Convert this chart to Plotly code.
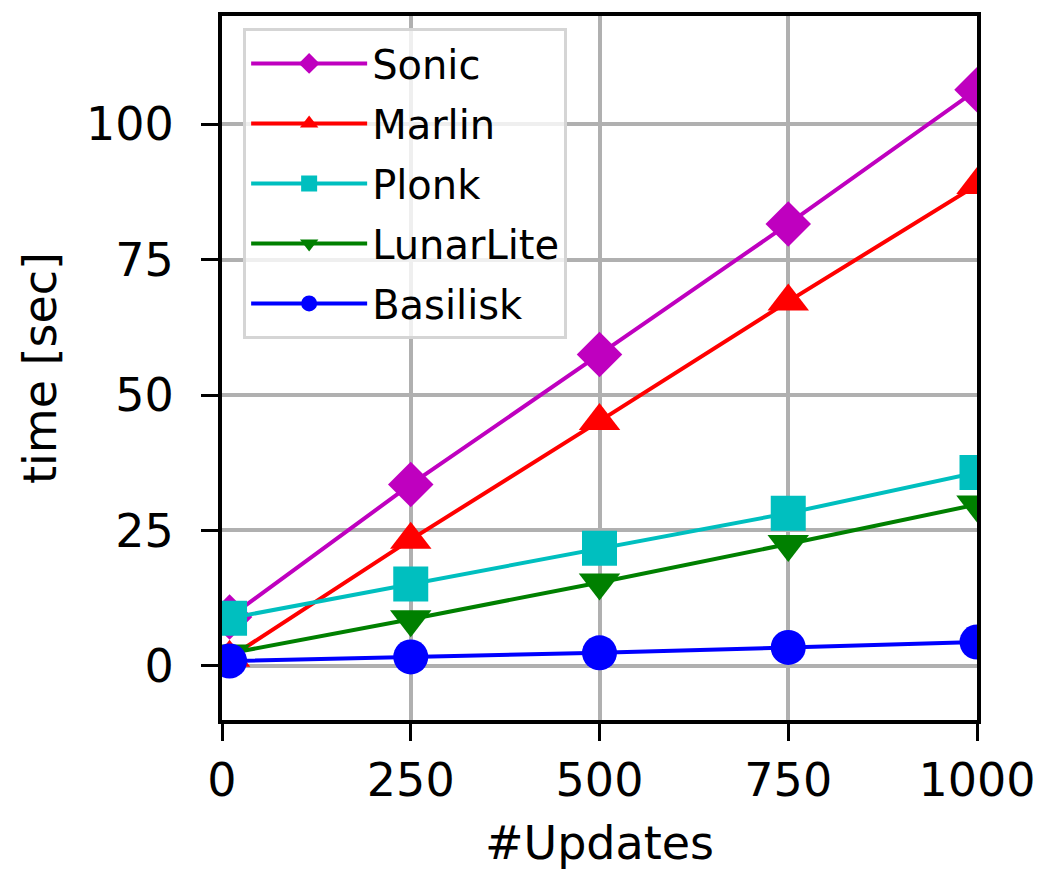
import plotly.graph_objects as go

updates = [10, 250, 500, 750, 1000]
series_names = ["Sonic", "Marlin", "Plonk", "LunarLite", "Basilisk"]
sonic = [9.0, 33.5, 57.5, 81.6, 106.4]
marlin = [1.5, 23.3, 45.2, 67.3, 88.8]
plonk = [8.8, 15.1, 21.7, 28.2, 35.7]
lunarlite = [2.3, 8.6, 15.4, 22.5, 29.8]
basilisk = [0.9, 1.65, 2.4, 3.4, 4.4]
x_ticks = [0, 250, 500, 750, 1000]
y_ticks = [0, 25, 50, 75, 100]

values = [sonic, marlin, plonk, lunarlite, basilisk]
colors = ["#bf00bf", "#ff0000", "#00bfbf", "#008000", "#0000ff"]
symbols = ["diamond", "triangle-up", "square", "triangle-down", "circle"]
sizes = [35, 36, 35, 36, 35]

FONT = "DejaVu Sans"
fig = go.Figure()
for name, ys, c, s, sz in zip(series_names, values, colors, symbols, sizes):
    fig.add_trace(go.Scatter(
        x=updates, y=ys, name=name, mode="lines+markers",
        line=dict(color=c, width=4),
        marker=dict(symbol=s, size=sz, color=c, line=dict(width=0)),
        legendgroup=name,
    ))

fig.update_layout(
    width=1048, height=873,
    margin=dict(l=222, r=70, t=12, b=153),
    paper_bgcolor="white", plot_bgcolor="white",
    font=dict(family=FONT, size=46, color="black"),
    showlegend=True,
    legend=dict(
        x=0.028, y=0.983, xanchor="left", yanchor="top",
        font=dict(family=FONT, size=40, color="black"),
        bgcolor="rgba(255,255,255,0.8)", bordercolor="#d5d5d5", borderwidth=3,
        itemwidth=116, tracegroupgap=5, traceorder="grouped",
    ),
    xaxis=dict(
        range=[0, 1000], tickvals=x_ticks, ticktext=[str(v) for v in x_ticks],
        showgrid=True, gridcolor="#b0b0b0", gridwidth=4,
        showline=True, linecolor="black", linewidth=4, mirror=True,
        ticks="outside", ticklen=17, tickwidth=3, tickcolor="black",
        ticklabelstandoff=0, zeroline=False,
        tickfont=dict(family=FONT, size=46),
        title=dict(text="#Updates", font=dict(family=FONT, size=46), standoff=22),
    ),
    yaxis=dict(
        range=[-10, 120], tickvals=y_ticks, ticktext=[str(v) for v in y_ticks],
        showgrid=True, gridcolor="#b0b0b0", gridwidth=4,
        showline=True, linecolor="black", linewidth=4, mirror=True,
        ticks="outside", ticklen=17, tickwidth=3, tickcolor="black",
        ticklabelstandoff=18, zeroline=False,
        tickfont=dict(family=FONT, size=46),
        title=dict(text="time [sec]", font=dict(family=FONT, size=46), standoff=16),
    ),
)

fig.write_html("out.html")
